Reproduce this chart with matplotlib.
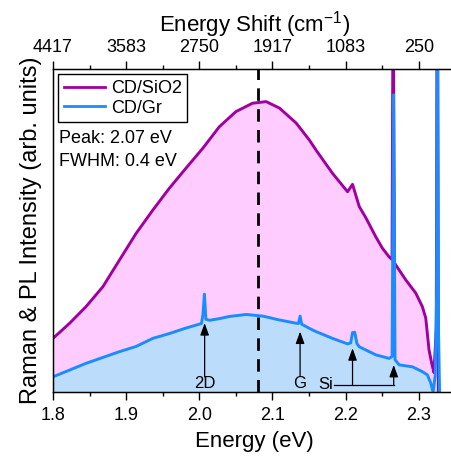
import matplotlib
matplotlib.use("Agg")
import matplotlib.pyplot as plt

plt.rcParams['font.family'] = ['Liberation Sans', 'DejaVu Sans']
plt.rcParams['mathtext.fontset'] = 'custom'
plt.rcParams['mathtext.rm'] = 'Liberation Sans'
plt.rcParams['mathtext.it'] = 'Liberation Sans:italic'
plt.rcParams['mathtext.bf'] = 'Liberation Sans:bold'

# PL + Raman spectrum of CD on SiO2 (energy in eV, intensity in arb. units)
energy_sio2 = [1.8000, 1.8228, 1.8454, 1.8682, 1.8910, 1.9136, 1.9364, 1.9591, 1.9818,
               2.0046, 2.0273, 2.0500, 2.0727, 2.0914, 2.1096, 2.1323, 2.1505, 2.1596,
               2.1818, 2.2027, 2.2095, 2.2187, 2.2278, 2.2414, 2.2504, 2.2596, 2.2635,
               2.2650, 2.2668, 2.2687, 2.2823, 2.2960, 2.3050, 2.3096, 2.3141, 2.3182,
               2.3209, 2.3240, 2.3254, 2.3270]
intensity_sio2 = [0.166, 0.213, 0.265, 0.326, 0.409, 0.491, 0.563, 0.631, 0.693,
                  0.754, 0.821, 0.868, 0.894, 0.899, 0.879, 0.833, 0.780, 0.749,
                  0.678, 0.620, 0.643, 0.574, 0.539, 0.480, 0.445, 0.418, 0.41,
                  1.30, 0.40, 0.393, 0.347, 0.306, 0.264, 0.229, 0.130, 0.084,
                  0.060, 0.20, 1.50, 0.0]

# PL + Raman spectrum of CD on graphene
energy_gr = [1.8000, 1.8228, 1.8454, 1.8682, 1.8910, 1.9136, 1.9364, 1.9591, 1.9818,
             2.0030, 2.0050, 2.0070, 2.0090, 2.0141, 2.0273, 2.0414, 2.0641, 2.0868,
             2.1096, 2.1323, 2.1355, 2.1378, 2.1400, 2.1505, 2.1596, 2.1822, 2.2027,
             2.2070, 2.2095, 2.2125, 2.2155, 2.2187, 2.2414, 2.2596, 2.2636, 2.2656,
             2.2676, 2.2732, 2.2914, 2.3050, 2.3118, 2.3164, 2.3196, 2.3225, 2.3245,
             2.3254, 2.3270, 2.3285]
intensity_gr = [0.047, 0.068, 0.089, 0.107, 0.125, 0.141, 0.166, 0.181, 0.198,
                0.212, 0.240, 0.303, 0.225, 0.222, 0.227, 0.234, 0.240, 0.235,
                0.223, 0.213, 0.212, 0.235, 0.210, 0.197, 0.187, 0.166, 0.149,
                0.152, 0.184, 0.185, 0.150, 0.140, 0.115, 0.104, 0.110, 0.920,
                0.100, 0.084, 0.078, 0.063, 0.053, 0.028, 0.000, 0.050, 0.300,
                1.500, 0.200, 0.000]

bottom_ticks = [1.8, 1.9, 2.0, 2.1, 2.2, 2.3]
bottom_labels = ["1.8", "1.9", "2.0", "2.1", "2.2", "2.3"]
top_labels = ["4417", "3583", "2750", "1917", "1083", "250"]
minor_ticks = [1.85, 1.95, 2.05, 2.15, 2.25]

peak_energy = 2.08
peak_text = "Peak: 2.07 eV"
fwhm_text = "FWHM: 0.4 eV"

# Raman band positions (eV) marked with arrows
band_2d = 2.0073
band_g = 2.1378
band_si = [2.2095, 2.2658]

c_sio2 = "#a000a0"
c_sio2_fill = "#ffccff"
c_gr = "#1a8cff"
c_gr_fill = "#bcdcfb"

fig = plt.figure(figsize=(4.51, 4.57), dpi=100)
ax = fig.add_axes([53 / 451, 65 / 457, (455.3 - 53) / 451, 323 / 457])

ax.fill_between(energy_sio2, intensity_sio2, 0, color=c_sio2_fill, lw=0)
ax.plot(energy_sio2, intensity_sio2, color=c_sio2, lw=2.1, label="CD/SiO2")
ax.fill_between(energy_gr, intensity_gr, 0, color=c_gr_fill, lw=0)
ax.plot(energy_gr, intensity_gr, color=c_gr, lw=2.1, label="CD/Gr")

ax.axvline(peak_energy, color="black", lw=2, dashes=(4.5, 3))

ax.set_xlim(1.8, 2.35)
ax.set_ylim(0, 1)
ax.set_yticks([])
ax.spines['right'].set_visible(False)
for s in ax.spines.values():
    s.set_linewidth(1.0)

ax.set_xticks(bottom_ticks)
ax.set_xticklabels(bottom_labels)
ax.set_xticks(minor_ticks, minor=True)
ax.tick_params(axis='x', which='major', direction='out', length=6, width=1,
               labelsize=13, pad=4.5)
ax.tick_params(axis='x', which='minor', direction='out', length=3, width=1)
ax.set_xlabel("Energy (eV)", fontsize=16, labelpad=5)
ax.set_ylabel("Raman & PL Intensity (arb. units)", fontsize=17, labelpad=8)

top = ax.twiny()
top.set_xlim(ax.get_xlim())
top.set_xticks(bottom_ticks)
top.set_xticklabels(top_labels)
top.set_xticks(minor_ticks, minor=True)
top.tick_params(axis='x', which='major', direction='out', length=6, width=1,
                labelsize=13, pad=3)
top.tick_params(axis='x', which='minor', direction='out', length=3, width=1)
top.spines['right'].set_visible(False)
top.set_xlabel("Energy Shift (cm$^{-1}$)", fontsize=16, labelpad=6)

leg = ax.legend(loc="upper left", bbox_to_anchor=(0.0, 1.0), fontsize=13,
                frameon=True, fancybox=False, edgecolor="black", framealpha=1,
                handlelength=2.3, handletextpad=0.3, borderpad=0.3,
                labelspacing=0.15, borderaxespad=0.3)
leg.get_frame().set_linewidth(1.0)
for line in leg.get_lines():
    line.set_linewidth(2)

ax.text(0.0137, 0.770, peak_text, transform=ax.transAxes, fontsize=13, va="baseline")
ax.text(0.0137, 0.700, fwhm_text, transform=ax.transAxes, fontsize=13, va="baseline")

arrow = dict(arrowstyle="-|>,head_length=0.6,head_width=0.22", color="black",
             lw=0.9, mutation_scale=12, shrinkA=0, shrinkB=0)
ax.annotate("", xy=(band_2d, 0.213), xytext=(band_2d, 0.047), arrowprops=arrow)
ax.text(band_2d, 0.0115, "2D", ha="center", va="baseline", fontsize=12)
ax.annotate("", xy=(band_g, 0.187), xytext=(band_g, 0.0495), arrowprops=arrow)
ax.text(band_g, 0.0115, "G", ha="center", va="baseline", fontsize=12)
ax.text(2.1828, 0.0217, "Si", ha="right", va="center", fontsize=12)
ax.plot([2.1846, band_si[1]], [0.0217, 0.0217], color="black", lw=0.9)
ax.annotate("", xy=(band_si[0], 0.1353), xytext=(band_si[0], 0.0217), arrowprops=arrow)
ax.annotate("", xy=(band_si[1], 0.0836), xytext=(band_si[1], 0.0217), arrowprops=arrow)

fig.savefig("out.png", dpi=100)
